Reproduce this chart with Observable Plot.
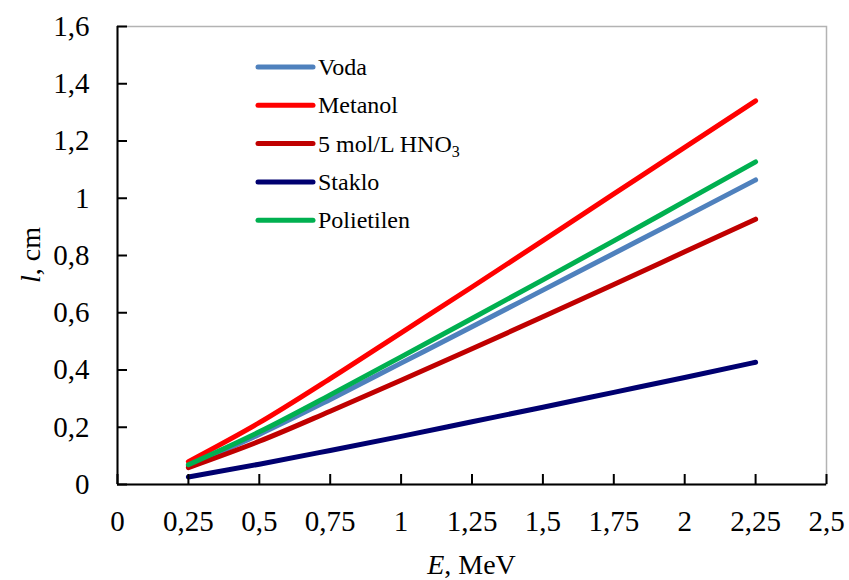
<!DOCTYPE html>
<html>
<head>
<meta charset="utf-8">
<script src="https://cdn.jsdelivr.net/npm/d3@7"></script>
<script src="https://cdn.jsdelivr.net/npm/@observablehq/plot@0.6"></script>
<style>
  html, body { margin: 0; padding: 0; background: #fff; }
  #chart svg { display: block; }
</style>
</head>
<body>
<div id="chart"></div>
<script>
// Energies (MeV)
const energies = [0.25, 0.5, 0.75, 1.0, 1.25, 1.5, 1.75, 2.0, 2.25];
// Ranges l (cm) per material
const voda       = [0.065, 0.175, 0.297, 0.424, 0.551, 0.679, 0.807, 0.935, 1.064];
const metanol    = [0.080, 0.216, 0.370, 0.530, 0.690, 0.852, 1.015, 1.178, 1.340];
const hno3       = [0.059, 0.151, 0.256, 0.364, 0.474, 0.586, 0.699, 0.813, 0.927];
const staklo     = [0.026, 0.071, 0.119, 0.168, 0.219, 0.270, 0.322, 0.374, 0.427];
const polietilen = [0.069, 0.184, 0.313, 0.446, 0.580, 0.715, 0.851, 0.989, 1.127];

const seriesNames  = ["Voda", "Metanol", "5 mol/L HNO3", "Staklo", "Polietilen"];
const seriesValues = [voda, metanol, hno3, staklo, polietilen];
const seriesColors = ["#4F81BD", "#FF0000", "#C00000", "#000070", "#00B050"];

const xTickValues = [0, 0.25, 0.5, 0.75, 1, 1.25, 1.5, 1.75, 2, 2.25, 2.5];
const xTickLabels = ["0", "0,25", "0,5", "0,75", "1", "1,25", "1,5", "1,75", "2", "2,25", "2,5"];
const yTickValues = [0, 0.2, 0.4, 0.6, 0.8, 1, 1.2, 1.4, 1.6];
const yTickLabels = ["0", "0,2", "0,4", "0,6", "0,8", "1", "1,2", "1,4", "1,6"];

const rows = [];
seriesNames.forEach((name, si) => {
  energies.forEach((e, i) => rows.push({series: name, E: e, l: seriesValues[si][i]}));
});

const FONT = "'Liberation Serif', 'Times New Roman', serif";
const W = 849, H = 580;
const mL = 117, mR = 23, mT = 26, mB = 96;

const xLab = new Map(xTickValues.map((v, i) => [v, xTickLabels[i]]));
const yLab = new Map(yTickValues.map((v, i) => [v, yTickLabels[i]]));

const chart = Plot.plot({
  width: W,
  height: H,
  marginLeft: mL,
  marginRight: mR,
  marginTop: mT,
  marginBottom: mB,
  style: {fontFamily: FONT, background: "#fff", color: "#000"},
  x: {domain: [0, 2.5], label: null},
  y: {domain: [0, 1.6], label: null},
  color: {domain: seriesNames, range: seriesColors},
  marks: [
    Plot.frame({stroke: "#b3b3b3", strokeWidth: 1.5}),
    Plot.line(rows, {x: "E", y: "l", z: "series", stroke: "series", strokeWidth: 5,
      strokeLinecap: "round", strokeLinejoin: "round", curve: "monotone-x"}),
    Plot.ruleX([0], {stroke: "#000", strokeWidth: 2}),
    Plot.ruleY([0], {stroke: "#000", strokeWidth: 2}),
    // inward tick marks
    Plot.axisX(xTickValues, {tickSize: 10, dy: -10, tickFormat: () => "", label: null, stroke: "#000", strokeWidth: 2}),
    Plot.axisY(yTickValues, {tickSize: 10, dx: 10, tickFormat: () => "", label: null, stroke: "#000", strokeWidth: 2}),
    // tick labels
    Plot.axisX(xTickValues, {tickSize: 0, tickPadding: 26, tickFormat: d => xLab.get(d), label: null, fontSize: 29, fill: "#000"}),
    Plot.axisY(yTickValues, {tickSize: 0, tickPadding: 28, tickFormat: d => yLab.get(d), label: null, fontSize: 29, fill: "#000"})
  ]
});

document.getElementById("chart").appendChild(chart);

const svg = d3.select(chart);

// Axis titles
const xt = svg.append("text")
  .attr("x", (mL + (W - mR)) / 2)
  .attr("y", 574)
  .attr("text-anchor", "middle")
  .attr("font-family", FONT)
  .attr("font-size", 28)
  .attr("fill", "#000");
xt.append("tspan").attr("font-style", "italic").text("E");
xt.append("tspan").text(", MeV");

const yt = svg.append("text")
  .attr("transform", `translate(40, ${(mT + (H - mB)) / 2}) rotate(-90)`)
  .attr("text-anchor", "middle")
  .attr("font-family", FONT)
  .attr("font-size", 28)
  .attr("fill", "#000");
yt.append("tspan").attr("font-style", "italic").text("l");
yt.append("tspan").text(", cm");

// Legend
const lg = svg.append("g");
const lx0 = 258, lx1 = 313, ly0 = 67, ldy = 38.3;
seriesNames.forEach((name, i) => {
  const y = ly0 + i * ldy;
  lg.append("line")
    .attr("x1", lx0).attr("x2", lx1).attr("y1", y).attr("y2", y)
    .attr("stroke", seriesColors[i]).attr("stroke-width", 5).attr("stroke-linecap", "round");
  const t = lg.append("text")
    .attr("x", lx1 + 5).attr("y", y + 8)
    .attr("text-anchor", "start")
    .attr("font-family", FONT).attr("font-size", 24).attr("fill", "#000");
  if (name === "5 mol/L HNO3") {
    t.append("tspan").text("5 mol/L HNO");
    t.append("tspan").attr("font-size", 16).attr("dy", 5).text("3");
  } else {
    t.text(name);
  }
});
</script>
</body>
</html>
